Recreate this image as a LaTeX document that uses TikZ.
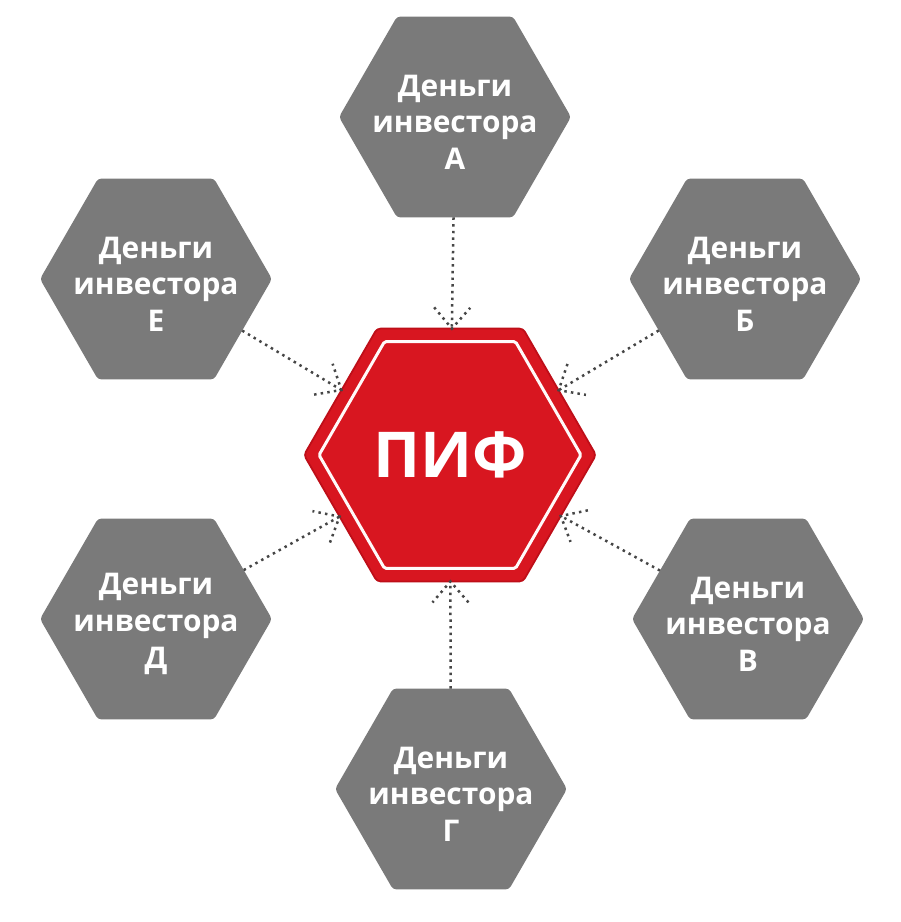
\documentclass[tikz,border=0pt]{standalone}
\usepackage{fontspec}
\setmainfont{Open Sans}
\usetikzlibrary{shapes.geometric,decorations.markings,calc}

\definecolor{hexgrey}{RGB}{122,122,122}
\definecolor{pifred}{RGB}{216,22,32}
\definecolor{pifdark}{RGB}{190,14,24}
\definecolor{dotgrey}{RGB}{70,70,70}

\tikzset{
  hexbox/.style={regular polygon, regular polygon sides=6, minimum size=4.64cm,
    inner sep=0pt, outer sep=0pt, fill=hexgrey, rounded corners=2pt},
  hextext/.style={text=white, align=center, inner sep=0pt, yshift=-3pt,
    font=\bfseries\fontsize{17pt}{21pt}\selectfont},
  dots/.style={draw=dotgrey, line width=0.05cm, dash pattern=on 1.4pt off 2.4pt},
  flow/.style={dots, postaction={decorate}, decoration={markings,
    mark=at position 1 with {\draw[dots] (-21,18) -- (0,0) -- (-21,-18);}}}
}

\begin{document}
\begin{tikzpicture}[x=0.02cm,y=-0.02cm]
  \useasboundingbox[fill=white] (0,0) rectangle (900,922);
  % Fund in the middle
  \node[regular polygon, regular polygon sides=6, minimum size=5.84cm, inner sep=0pt,
    outer sep=0pt, fill=pifred, draw=pifdark, line width=1pt, rounded corners=2pt,
    text=white, font=\bfseries\fontsize{36pt}{40pt}\selectfont] (pif) at (450,455) {ПИФ};
  \node[regular polygon, regular polygon sides=6, minimum size=5.24cm, inner sep=0pt,
    draw=white!92!pink, line width=1.7pt, rounded corners=1pt] (pifline) at (450,455) {};

  % Investors round the fund
  \foreach \nm/\px/\py/\lt in {a/455/117/А, b/745/279/Б, v/748/619/В,
                               g/451/789/Г, d/156/619/Д, e/156/279/Е}{
    \node[hexbox, label={[hextext]center:Деньги\\инвестора\\\lt}] (\nm) at (\px,\py) {};
    \draw[flow] (\nm) -- (pif);
  }
\end{tikzpicture}
\end{document}
